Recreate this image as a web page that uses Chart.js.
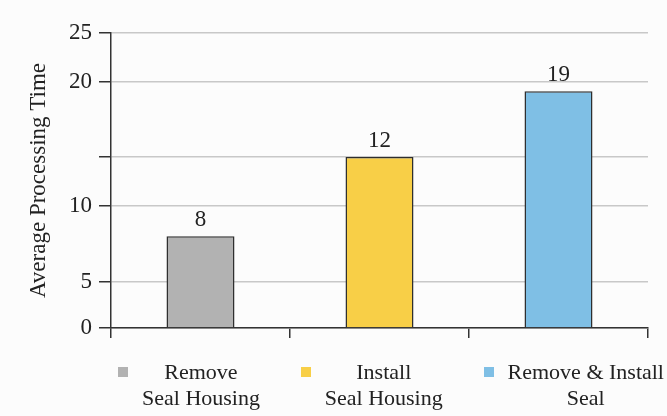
<!DOCTYPE html>
<html>
<head>
<meta charset="utf-8">
<script src="https://cdn.jsdelivr.net/npm/chart.js@4.4.1/dist/chart.umd.min.js"></script>
<style>
  html, body { margin: 0; padding: 0; background: #fcfcfc; }
  #wrap { position: relative; width: 667px; height: 416px; overflow: hidden; }
  #chart { position: absolute; left: 0; top: 0; }
  #legend {
    position: absolute; left: 118px; top: 359px; width: 546px;
    display: flex; justify-content: space-between;
    font-family: "Liberation Serif", serif; font-size: 22px; line-height: 26px; color: #222;
  }
  .item { display: flex; align-items: flex-start; }
  .swatch { width: 10px; height: 10px; margin-top: 8px; margin-right: 14px; flex: none; }
  .label { text-align: center; white-space: nowrap; }
</style>
</head>
<body>
<div id="wrap">
  <canvas id="chart" width="667" height="416"></canvas>
  <div id="legend"></div>
</div>
<script>
// Tasks (two-line names), average processing times and bar colours
const categories = [['Remove', 'Seal Housing'], ['Install', 'Seal Housing'], ['Remove & Install', 'Seal']];
const processingTimes = [8, 12, 19];
const barColors = ['#b2b2b2', '#f8cf47', '#7fbfe5'];

// Y axis ticks; the one at 12 carries a grid line but no label
const yTickValues = [0, 5, 10, 12, 20, 25];
const yTickLabels = ['0', '5', '10', '', '20', '25'];

// Share of the axis height reached at each tick (the axis is spaced unevenly)
const yTickStops = [0, 0.156, 0.414, 0.580, 0.834, 1];

// Linear scale whose ticks sit at fixed stops, interpolating values between them
class SteppedScale extends Chart.LinearScale {
  buildTicks() {
    return yTickValues.map(v => ({ value: v }));
  }
  valueToDecimal(v) {
    for (let i = 1; i < yTickValues.length; i++) {
      if (v <= yTickValues[i]) {
        const a = yTickValues[i - 1], b = yTickValues[i];
        return yTickStops[i - 1] + (v - a) / (b - a) * (yTickStops[i] - yTickStops[i - 1]);
      }
    }
    return 1;
  }
  getPixelForValue(v) {
    if (v === null || v === undefined || isNaN(v)) return NaN;
    return this.getPixelForDecimal(this.valueToDecimal(v));
  }
  getValueForPixel(p) {
    const d = this.getDecimalForPixel(p);
    for (let i = 1; i < yTickStops.length; i++) {
      if (d <= yTickStops[i]) {
        const s0 = yTickStops[i - 1], s1 = yTickStops[i];
        return yTickValues[i - 1] + (d - s0) / (s1 - s0) * (yTickValues[i] - yTickValues[i - 1]);
      }
    }
    return yTickValues[yTickValues.length - 1];
  }
}
SteppedScale.id = 'stepped';
SteppedScale.defaults = {};
Chart.register(SteppedScale);

// Value printed above each bar
const valueLabels = {
  id: 'valueLabels',
  afterDatasetsDraw(chart) {
    const ctx = chart.ctx;
    const meta = chart.getDatasetMeta(0);
    ctx.save();
    ctx.font = '23px "Liberation Serif", serif';
    ctx.fillStyle = '#222';
    ctx.textAlign = 'center';
    ctx.textBaseline = 'alphabetic';
    meta.data.forEach((bar, i) => {
      ctx.fillText(String(processingTimes[i]), bar.x, bar.y - 10);
    });
    ctx.restore();
  }
};

Chart.defaults.font.family = '"Liberation Serif", serif';
Chart.defaults.color = '#222';

new Chart(document.getElementById('chart'), {
  type: 'bar',
  data: {
    labels: categories.map(c => c.join(' ')),
    datasets: [{
      data: processingTimes,
      backgroundColor: barColors,
      borderColor: '#2e2e2e',
      borderWidth: 1.5,
      barPercentage: 0.38,
      categoryPercentage: 1
    }]
  },
  options: {
    responsive: false,
    animation: false,
    layout: { padding: { left: 8, top: 33, right: 19, bottom: 78 } },
    plugins: { legend: { display: false }, tooltip: { enabled: false } },
    scales: {
      x: {
        ticks: { display: false },
        grid: { drawOnChartArea: false, drawTicks: true, tickLength: 10, color: '#333', lineWidth: 1.5, offset: true },
        border: { color: '#333', width: 1.5 }
      },
      y: {
        type: 'stepped',
        min: 0,
        max: 25,
        afterFit(scale) { scale.width = 103; },
        ticks: {
          autoSkip: false,
          padding: 7,
          color: '#222',
          font: { size: 23 },
          callback: (value, index) => yTickLabels[index]
        },
        grid: { color: '#c8c8c8', lineWidth: 1.5, tickColor: '#333', tickLength: 12, drawTicks: true },
        border: { color: '#333', width: 1.5 },
        title: {
          display: true,
          text: 'Average Processing Time',
          color: '#222',
          font: { size: 23 },
          padding: { top: 17, bottom: 0 }
        }
      }
    }
  },
  plugins: [valueLabels]
});

// Legend: colour square beside a centred two-line task name
const legend = document.getElementById('legend');
categories.forEach((lines, i) => {
  const item = document.createElement('div');
  item.className = 'item';
  const sw = document.createElement('div');
  sw.className = 'swatch';
  sw.style.background = barColors[i];
  const label = document.createElement('div');
  label.className = 'label';
  lines.forEach(line => {
    const row = document.createElement('div');
    row.textContent = line;
    label.appendChild(row);
  });
  item.appendChild(sw);
  item.appendChild(label);
  legend.appendChild(item);
});
</script>
</body>
</html>
